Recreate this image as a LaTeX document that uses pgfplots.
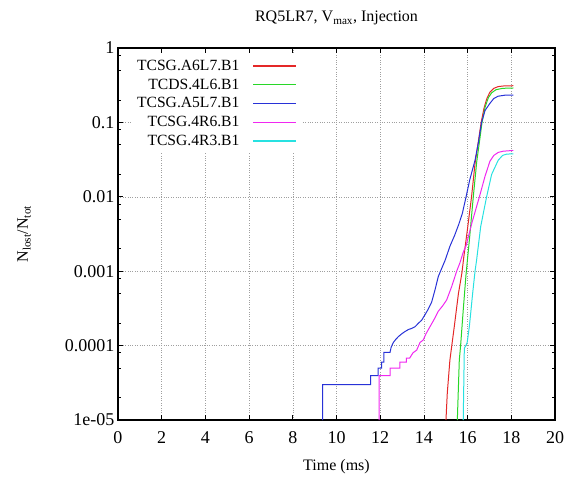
\documentclass[border=0pt]{standalone}
\usepackage{pgfplots}
\pgfplotsset{compat=1.18}
\usepackage{fontspec}
\setmainfont{Liberation Serif}
\definecolor{cR}{RGB}{228,40,40}
\definecolor{cG}{RGB}{40,215,40}
\definecolor{cB}{RGB}{40,50,215}
\definecolor{cM}{RGB}{240,40,240}
\definecolor{cC}{RGB}{40,225,225}
\begin{document}
\begin{tikzpicture}
\begin{axis}[
  width=437pt, height=372pt, scale only axis,
  xmin=0, xmax=20, ymin=1e-5, ymax=1, ymode=log,
  xtick={0,2,...,20},
  ytick={1e-5,1e-4,1e-3,0.01,0.1,1},
  yticklabels={1e-05,0.0001,0.001,0.01,0.1,1},
  minor ytick={2e-5,5e-5,8e-5,2e-4,5e-4,8e-4,2e-3,5e-3,8e-3,0.02,0.05,0.08,0.2,0.5,0.8},
  /pgf/number format/assume math mode=true,
  tick align=inside,
  major tick length=5pt, minor tick length=3pt,
  tick style={black, line width=0.8pt},
  grid=major,
  major grid style={dotted, gray!75, line width=0.6pt},
  axis line style={line width=1.2pt},
  ticklabel style={font=\fontsize{18}{18}\selectfont},
  xticklabel style={yshift=-8pt},
  title={RQ5LR7, V\textsubscript{max}, Injection},
  title style={font=\fontsize{16}{16}\selectfont, at={(axis description cs:0.5,1.065)}, anchor=center},
  xlabel={Time (ms)},
  xlabel style={font=\fontsize{16}{16}\selectfont, at={(axis description cs:0.5,-0.126)}, anchor=center},
  ylabel={N\textsubscript{lost}/N\textsubscript{tot}},
  ylabel style={font=\fontsize{16}{16}\selectfont, at={(axis description cs:-0.215,0.5)}, anchor=center, rotate=0},
  legend style={draw=white, fill=white, at={(axis description cs:0.4165,0.982)}, anchor=north east,
    legend cell align=right, font=\fontsize{15.6}{16}\selectfont, inner sep=3pt,
    row sep=3pt, column sep=11pt},
  legend plot pos=right,
  legend image code/.code={\draw[#1, line width=1.4pt] (0pt,0pt) -- (43pt,0pt);},
  every axis plot/.append style={line width=1pt},
]
\coordinate (o) at (rel axis cs:0,0);
% TCSG.A6L7.B1
\addplot[color=cR, draw=cR] coordinates {(15.01,1e-5)(15.07,2.3e-5)(15.19,6.4e-5)(15.39,1.8e-4)(15.58,5e-4)(15.74,9.5e-4)(15.82,1.5e-3)(16.0,3.8e-3)(16.18,0.01)(16.34,0.028)(16.47,0.05)(16.62,0.1)(16.75,0.155)(16.87,0.205)(17.02,0.255)(17.2,0.287)(17.4,0.303)(17.7,0.31)(18.09,0.311)};
\addlegendentry{TCSG.A6L7.B1}
% TCDS.4L6.B1
\addplot[color=cG, draw=cG] coordinates {(15.53,1e-5)(15.62,6.4e-5)(15.68,1e-4)(15.8,3e-4)(15.92,8.5e-4)(16.0,1.5e-3)(16.1,3e-3)(16.26,0.01)(16.42,0.03)(16.56,0.06)(16.66,0.1)(16.8,0.16)(16.95,0.215)(17.1,0.25)(17.3,0.275)(17.6,0.287)(18.09,0.29)};
\addlegendentry{TCDS.4L6.B1}
% TCSG.A5L7.B1
\addplot[color=cB, draw=cB] coordinates {(9.37,1e-5)(9.37,3.0e-5)(11.56,3.0e-5)(11.56,3.96e-5)(11.91,3.96e-5)(11.91,4.97e-5)(12.07,4.97e-5)(12.07,6e-5)(12.17,6e-5)(12.17,8.1e-5)(12.45,8.1e-5)(12.5,9.5e-5)(12.6,1.1e-4)(12.7,1.2e-4)(12.83,1.32e-4)(13.0,1.45e-4)(13.14,1.55e-4)(13.3,1.65e-4)(13.44,1.7e-4)(13.6,1.8e-4)(13.75,2e-4)(13.9,2.2e-4)(14.05,2.6e-4)(14.2,3.1e-4)(14.35,3.8e-4)(14.5,5.5e-4)(14.66,8.5e-4)(14.76,1e-3)(14.97,1.4e-3)(15.2,2.2e-3)(15.4,3e-3)(15.6,4.3e-3)(15.76,6e-3)(15.93,0.01)(16.1,0.017)(16.34,0.031)(16.5,0.055)(16.64,0.1)(16.8,0.145)(17.02,0.18)(17.2,0.21)(17.4,0.225)(17.7,0.232)(18.09,0.233)};
\addlegendentry{TCSG.A5L7.B1}
% TCSG.4R6.B1
\addplot[color=cM, draw=cM] coordinates {(11.95,1e-5)(11.95,3.96e-5)(12.45,3.96e-5)(12.45,4.97e-5)(12.9,4.97e-5)(12.9,6e-5)(13.2,6e-5)(13.2,6.8e-5)(13.35,6.8e-5)(13.5,8e-5)(13.67,8.7e-5)(13.82,1.1e-4)(13.97,1.19e-4)(14.1,1.45e-4)(14.28,1.8e-4)(14.45,2.2e-4)(14.66,2.9e-4)(14.85,3.4e-4)(15.04,4.1e-4)(15.27,6.2e-4)(15.5,1e-3)(15.65,1.3e-3)(15.8,1.8e-3)(15.93,2.2e-3)(16.2,4.5e-3)(16.54,0.01)(16.8,0.019)(17.02,0.03)(17.2,0.036)(17.4,0.0395)(17.63,0.041)(18.09,0.042)};
\addlegendentry{TCSG.4R6.B1}
% TCSG.4R3.B1
\addplot[color=cC, draw=cC] coordinates {(15.8,1e-5)(15.85,9.2e-5)(15.92,1e-4)(15.98,1.1e-4)(16.08,1.8e-4)(16.23,5e-4)(16.34,1e-3)(16.41,1.4e-3)(16.6,4e-3)(16.87,0.01)(17.1,0.02)(17.4,0.031)(17.6,0.036)(17.79,0.0375)(18.09,0.0378)};
\addlegendentry{TCSG.4R3.B1}
\end{axis}
\pgfresetboundingbox
\path (o) ++(-118pt,-61pt) rectangle ++(569pt,481pt);
\end{tikzpicture}
\end{document}
